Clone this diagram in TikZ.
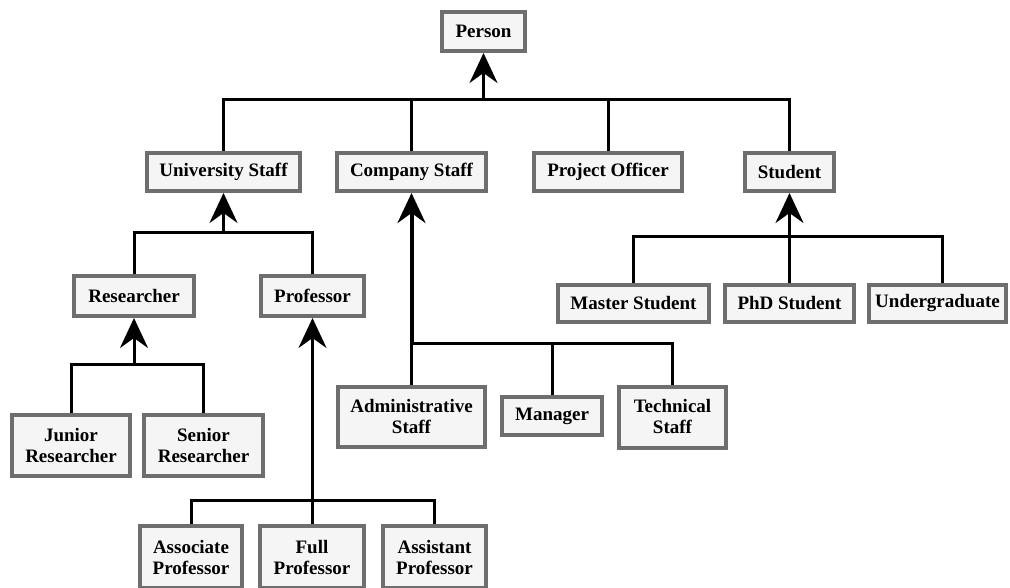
\documentclass[tikz,border=0pt]{standalone}
\usepackage{fontspec}
\setmainfont{Liberation Serif}
\usetikzlibrary{arrows.meta}
\definecolor{boxedge}{HTML}{6E6E6E}
\definecolor{boxfill}{HTML}{F5F5F5}
\begin{document}
\begin{tikzpicture}[x=1pt,y=-1pt,
  cls/.style={draw=boxedge, fill=boxfill, line width=4pt, inner sep=0pt,
    align=center, font=\fontsize{19}{21}\selectfont\bfseries},
  link/.style={line width=3pt, black},
  isa/.style={link, -{Stealth[length=30pt,width=28pt,inset=10pt]}}]
\useasboundingbox (0,0) rectangle (1010,588);

% classes
\node[cls, minimum width=83pt,  minimum height=39pt] (person) at (483.5,31.5) {Person};
\node[cls, minimum width=153pt, minimum height=38pt] (ustaff) at (223.5,172) {University Staff};
\node[cls, minimum width=149pt, minimum height=38pt] (cstaff) at (411.5,172) {Company Staff};
\node[cls, minimum width=148pt, minimum height=38pt] (poff)   at (608,172)   {Project Officer};
\node[cls, minimum width=89pt,  minimum height=38pt] (stud)   at (789.5,172) {Student};

\node[cls, minimum width=120pt, minimum height=40pt] (res)  at (134,296)   {Researcher};
\node[cls, minimum width=103pt, minimum height=40pt] (prof) at (312.5,296) {Professor};

\node[cls, minimum width=151pt, minimum height=37pt] (mst) at (633.5,303.5) {Master Student};
\node[cls, minimum width=129pt, minimum height=37pt] (phd) at (789.5,303.5) {PhD Student};
\node[cls, minimum width=137pt, minimum height=37pt] (ug)  at (937.5,303.5) {Undergraduate};

\node[cls, minimum width=118pt, minimum height=61pt] (jres) at (71,445.5)  {Junior\\Researcher};
\node[cls, minimum width=119pt, minimum height=61pt] (sres) at (203.5,445.5) {Senior\\Researcher};

\node[cls, minimum width=147pt, minimum height=60pt] (adm)  at (411.5,417) {Administrative\\Staff};
\node[cls, minimum width=100pt, minimum height=38pt] (mgr)  at (552,416)   {Manager};
\node[cls, minimum width=107pt, minimum height=61pt] (tech) at (672.5,417) {Technical\\Staff};

\node[cls, minimum width=102pt, minimum height=62pt] (aprof) at (191,557)   {Associate\\Professor};
\node[cls, minimum width=104pt, minimum height=62pt] (fprof) at (312,557)   {Full\\Professor};
\node[cls, minimum width=103pt, minimum height=62pt] (sprof) at (434.5,557) {Assistant\\Professor};

% bus levels
\coordinate (busA) at (0,100);
\coordinate (busB) at (0,233);
\coordinate (busC) at (0,237);
\coordinate (busD) at (0,343);
\coordinate (busE) at (0,364);
\coordinate (busF) at (0,500);

% Person
\draw[link] (ustaff.north) -- (ustaff.north |- busA) -- (stud.north |- busA) -- (stud.north);
\draw[link] (cstaff.north) -- (cstaff.north |- busA);
\draw[link] (poff.north) -- (poff.north |- busA);
\draw[isa] (person.south |- busA) -- (person.south);

% University Staff
\draw[link] (res.north) -- (res.north |- busB) -- (prof.north |- busB) -- (prof.north);
\draw[isa] (ustaff.south |- busB) -- (ustaff.south);

% Student
\coordinate (ugtop) at ([xshift=5pt]ug.north);
\draw[link] (mst.north) -- (mst.north |- busC) -- (ugtop |- busC) -- (ugtop);
\draw[link] (phd.north) -- (phd.north |- busC);
\draw[isa] (stud.south |- busC) -- (stud.south);

% Company Staff
\draw[link] (adm.north) -- (adm.north |- busD) -- (tech.north |- busD) -- (tech.north);
\draw[link] (mgr.north) -- (mgr.north |- busD);
\draw[isa, line width=4pt] (cstaff.south |- busD) -- (cstaff.south);

% Researcher
\draw[link] (jres.north) -- (jres.north |- busE) -- (sres.north |- busE) -- (sres.north);
\draw[isa] (res.south |- busE) -- (res.south);

% Professor
\draw[link] (aprof.north) -- (aprof.north |- busF) -- (sprof.north |- busF) -- (sprof.north);
\draw[link] (fprof.north) -- (fprof.north |- busF);
\draw[isa] (prof.south |- busF) -- (prof.south);
\end{tikzpicture}
\end{document}
